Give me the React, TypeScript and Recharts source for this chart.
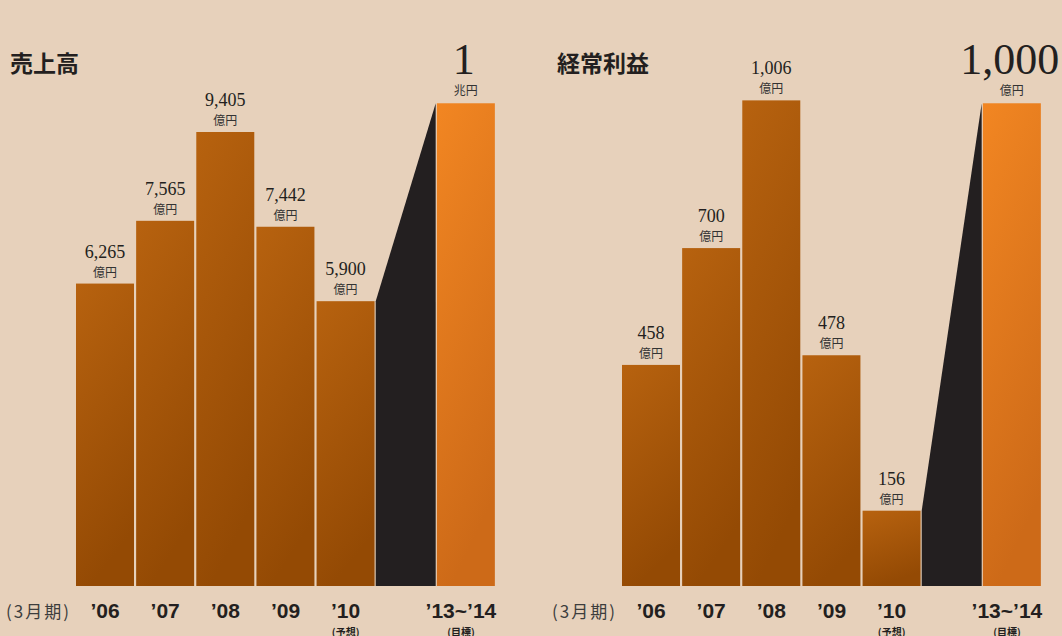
import React from "react";
import { BarChart, Bar, XAxis, YAxis, LabelList } from "recharts";

const years = ["’06", "’07", "’08", "’09", "’10", "", "’13~’14"];
const yearNotes = ["", "", "", "", "(予想)", "", "(目標)"];

const salesValues = [6265, 7565, 9405, 7442, 5900];
const salesLabels = ["6,265", "7,565", "9,405", "7,442", "5,900"];
const salesTarget = 10000;
const salesTargetLabel = "1";
const salesTargetUnit = "兆円";

const profitValues = [458, 700, 1006, 478, 156];
const profitLabels = ["458", "700", "1,006", "478", "156"];
const profitTarget = 1000;
const profitTargetLabel = "1,000";
const profitTargetUnit = "億円";

const INK = "#231f20";
const BG = "#e7d1bb";
const SERIF = "'Liberation Serif', 'DejaVu Serif', serif";
const CJK = "'Noto Sans CJK JP', 'Noto Sans', sans-serif";
const SANS = "'Liberation Sans', Arial, sans-serif";

type Row = {
  year: string;
  note: string;
  value: number;
  from?: number;
  label?: string;
  unit?: string;
  kind: "actual" | "wedge" | "target";
};

function buildRows(values: number[], labels: string[], target: number, targetLabel: string, targetUnit: string): Row[] {
  const rows: Row[] = values.map((v, i) => ({
    year: years[i],
    note: yearNotes[i],
    value: v,
    label: labels[i],
    unit: "億円",
    kind: "actual",
  }));
  rows.push({ year: years[5], note: yearNotes[5], value: target, from: values[values.length - 1], kind: "wedge" });
  rows.push({ year: years[6], note: yearNotes[6], value: target, label: targetLabel, unit: targetUnit, kind: "target" });
  return rows;
}

const salesRows = buildRows(salesValues, salesLabels, salesTarget, salesTargetLabel, salesTargetUnit);
const profitRows = buildRows(profitValues, profitLabels, profitTarget, profitTargetLabel, profitTargetUnit);

function BarShape(props: any) {
  const { x, y, width, height, payload } = props;
  if (payload.kind === "wedge") {
    const bottom = y + height;
    const yFrom = bottom - (height * payload.from) / payload.value;
    return (
      <polygon
        points={`${x - 1},${yFrom} ${x + width + 1},${y} ${x + width + 1},${bottom} ${x - 1},${bottom}`}
        fill={INK}
      />
    );
  }
  const fill = payload.kind === "target" ? "url(#gradTarget)" : "url(#gradBar)";
  return <rect x={x} y={y} width={width} height={height} fill={fill} />;
}

function makeLabel(rows: Row[]) {
  return (props: any) => {
    const { x, y, width, index } = props;
    const row = rows[index];
    if (!row || row.kind === "wedge") return null;
    const cx = x + width / 2;
    if (row.kind === "target") {
      return (
        <g>
          <text x={cx - 2} y={y - 29} textAnchor="middle" fontFamily={SERIF} fontSize={44} fill={INK}>
            {row.label}
          </text>
          <text x={cx} y={y - 8} textAnchor="middle" fontFamily={CJK} fontSize={12} fill="#333">
            {row.unit}
          </text>
        </g>
      );
    }
    return (
      <g>
        <text x={cx} y={y - 26} textAnchor="middle" fontFamily={SERIF} fontSize={18} fill={INK}>
          {row.label}
        </text>
        <text x={cx} y={y - 7} textAnchor="middle" fontFamily={CJK} fontSize={12} fill="#333">
          {row.unit}
        </text>
      </g>
    );
  };
}

function YearTick(props: any) {
  const { x, payload, index } = props;
  const note = yearNotes[index];
  const shift = index === 6 ? -5 : 0;
  return (
    <g>
      <text x={x + shift} y={618} textAnchor="middle" fontFamily={SANS} fontWeight={700} fontSize={21} fill={INK}>
        {payload.value}
      </text>
      {note ? (
        <text x={x + shift} y={636} textAnchor="middle" fontFamily={CJK} fontWeight={700} fontSize={10} fill={INK}>
          {note}
        </text>
      ) : null}
    </g>
  );
}

function Panel({ rows, max, left, margin }: { rows: Row[]; max: number; left: number; margin: { left: number; right: number } }) {
  return (
    <div style={{ position: "absolute", left, top: 0 }}>
      <BarChart
        width={531}
        height={636}
        data={rows}
        margin={{ top: 55, bottom: 0, left: margin.left, right: margin.right }}
        barCategoryGap={1}
      >
        <XAxis dataKey="year" axisLine={false} tickLine={false} height={50} interval={0} tick={<YearTick />} />
        <YAxis hide domain={[0, max]} />
        <Bar dataKey="value" shape={<BarShape />} isAnimationActive={false}>
          <LabelList dataKey="value" content={makeLabel(rows)} />
        </Bar>
      </BarChart>
    </div>
  );
}

export default function App() {
  const title: React.CSSProperties = {
    position: "absolute",
    top: 50,
    fontFamily: CJK,
    fontWeight: 700,
    fontSize: 23,
    lineHeight: "24px",
    color: INK,
  };
  const period: React.CSSProperties = {
    position: "absolute",
    top: 600,
    fontFamily: CJK,
    fontSize: 17,
    lineHeight: "22px",
    letterSpacing: 2,
    color: "#3d3d3d",
  };
  return (
    <div style={{ position: "absolute", left: 0, top: 0, width: 1062, height: 636, background: BG, overflow: "hidden" }}>
      <svg width={0} height={0} style={{ position: "absolute" }}>
        <defs>
          <linearGradient id="gradBar" x1="0" y1="0" x2="0.25" y2="1">
            <stop offset="0%" stopColor="#b7620f" />
            <stop offset="100%" stopColor="#944a04" />
          </linearGradient>
          <linearGradient id="gradTarget" x1="0" y1="0" x2="0.25" y2="1">
            <stop offset="0%" stopColor="#f28622" />
            <stop offset="100%" stopColor="#cd6a18" />
          </linearGradient>
        </defs>
      </svg>
      <Panel rows={salesRows} max={11000} left={0} margin={{ left: 75, right: 35 }} />
      <Panel rows={profitRows} max={1100} left={531} margin={{ left: 90, right: 20 }} />
      <div style={{ ...title, left: 10 }}>売上高</div>
      <div style={{ ...title, left: 557 }}>経常利益</div>
      <div style={{ ...period, left: 6 }}>(3月期)</div>
      <div style={{ ...period, left: 552 }}>(3月期)</div>
    </div>
  );
}
